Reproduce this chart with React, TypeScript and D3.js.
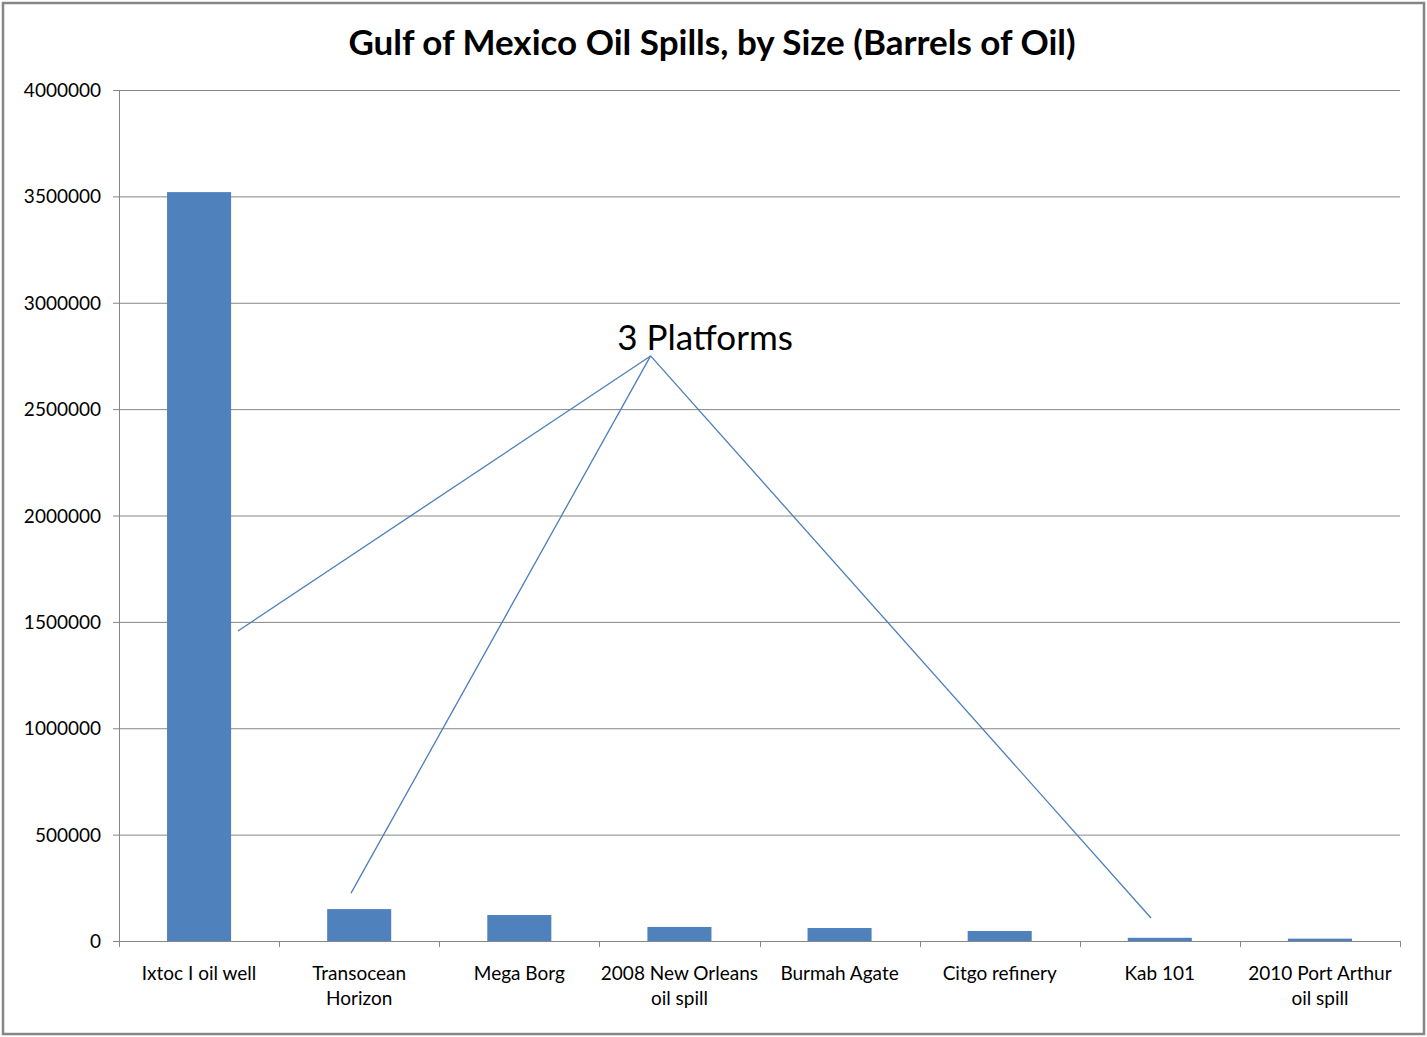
import React, { useEffect, useRef } from 'react';
import * as d3 from 'd3';

// chart data
const categories = [
  'Ixtoc I oil well',
  'Transocean\nHorizon',
  'Mega Borg',
  '2008 New Orleans\noil spill',
  'Burmah Agate',
  'Citgo refinery',
  'Kab 101',
  '2010 Port Arthur\noil spill',
];
const barrels = [3520000, 150000, 122000, 66000, 61000, 47000, 15000, 11000];
const yTicks = [0, 500000, 1000000, 1500000, 2000000, 2500000, 3000000, 3500000, 4000000];

// "3 Platforms" callout: pointer ends in (category index, barrels) units
const calloutLabel = '3 Platforms';
const calloutApex = { idx: 3.32, value: 2750000 };
const calloutEnds = [
  { idx: 0.743, value: 1457000 },
  { idx: 1.449, value: 225000 },
  { idx: 6.445, value: 108000 },
];

const W = 1427;
const H = 1037;
const font = 'Lato, "Open Sans", sans-serif';

const App: React.FC = () => {
  const ref = useRef<SVGSVGElement>(null);

  useEffect(() => {
    document.body.style.margin = '0';
    const svg = d3.select(ref.current);
    svg.selectAll('*').remove();

    const left = 119, right = 1400, top = 90, bottom = 941;

    // outer frame
    svg.append('rect')
      .attr('x', 3).attr('y', 3)
      .attr('width', W - 6).attr('height', H - 6)
      .attr('fill', '#fff').attr('stroke', '#868686').attr('stroke-width', 2.5);

    svg.append('text')
      .attr('x', 712).attr('y', 55)
      .attr('text-anchor', 'middle')
      .attr('font-family', font).attr('font-weight', 'bold').attr('font-size', 35)
      .text('Gulf of Mexico Oil Spills, by Size (Barrels of Oil)');

    const x = d3.scaleBand().domain(categories).range([left, right]).paddingInner(0.6).paddingOuter(0.3);
    const xIdx = d3.scaleLinear().domain([0, categories.length]).range([left, right]);
    const y = d3.scaleLinear().domain([0, 4000000]).range([bottom, top]);

    // gridlines + y ticks
    svg.append('g').selectAll('line')
      .data(yTicks)
      .join('line')
      .attr('x1', left - 6).attr('x2', right)
      .attr('y1', d => y(d) + 0.5).attr('y2', d => y(d) + 0.5)
      .attr('stroke', '#868686').attr('stroke-width', 1);

    svg.append('g').selectAll('text')
      .data(yTicks)
      .join('text')
      .attr('x', 101).attr('y', d => y(d) + 7)
      .attr('text-anchor', 'end')
      .attr('font-family', font).attr('font-size', 19)
      .text(d => String(d));

    // axes
    svg.append('line')
      .attr('x1', left + 0.5).attr('x2', left + 0.5)
      .attr('y1', top).attr('y2', bottom)
      .attr('stroke', '#868686');
    svg.append('line')
      .attr('x1', left).attr('x2', right)
      .attr('y1', bottom + 0.5).attr('y2', bottom + 0.5)
      .attr('stroke', '#868686');

    // category ticks
    svg.append('g').selectAll('line')
      .data(d3.range(categories.length + 1))
      .join('line')
      .attr('x1', d => Math.round(xIdx(d)) + 0.5).attr('x2', d => Math.round(xIdx(d)) + 0.5)
      .attr('y1', bottom).attr('y2', bottom + 6)
      .attr('stroke', '#868686');

    // bars
    svg.append('g').selectAll('rect')
      .data(barrels)
      .join('rect')
      .attr('x', (d, i) => x(categories[i]) as number)
      .attr('width', x.bandwidth())
      .attr('y', d => y(d))
      .attr('height', d => bottom - y(d))
      .attr('fill', '#4f81bd');

    // category labels
    const lbl = svg.append('g').selectAll('text')
      .data(categories)
      .join('text')
      .attr('x', d => (x(d) as number) + x.bandwidth() / 2)
      .attr('y', 980)
      .attr('text-anchor', 'middle')
      .attr('font-family', font).attr('font-size', 19);
    lbl.selectAll('tspan')
      .data(d => d.split('\n'))
      .join('tspan')
      .attr('x', function () { return (this.parentNode as SVGTextElement).getAttribute('x'); })
      .attr('dy', (d, i) => (i === 0 ? 0 : 25))
      .text(d => d);

    // callout
    svg.append('g').selectAll('line')
      .data(calloutEnds)
      .join('line')
      .attr('x1', xIdx(calloutApex.idx)).attr('y1', y(calloutApex.value))
      .attr('x2', d => xIdx(d.idx)).attr('y2', d => y(d.value))
      .attr('stroke', '#4a7ebb').attr('stroke-width', 1.3);

    svg.append('text')
      .attr('x', xIdx(3.66)).attr('y', y(2780000))
      .attr('text-anchor', 'middle')
      .attr('font-family', font).attr('font-size', 35)
      .text(calloutLabel);
  }, []);

  return <svg ref={ref} width={W} height={H} style={{ display: 'block' }} />;
};

export default App;
